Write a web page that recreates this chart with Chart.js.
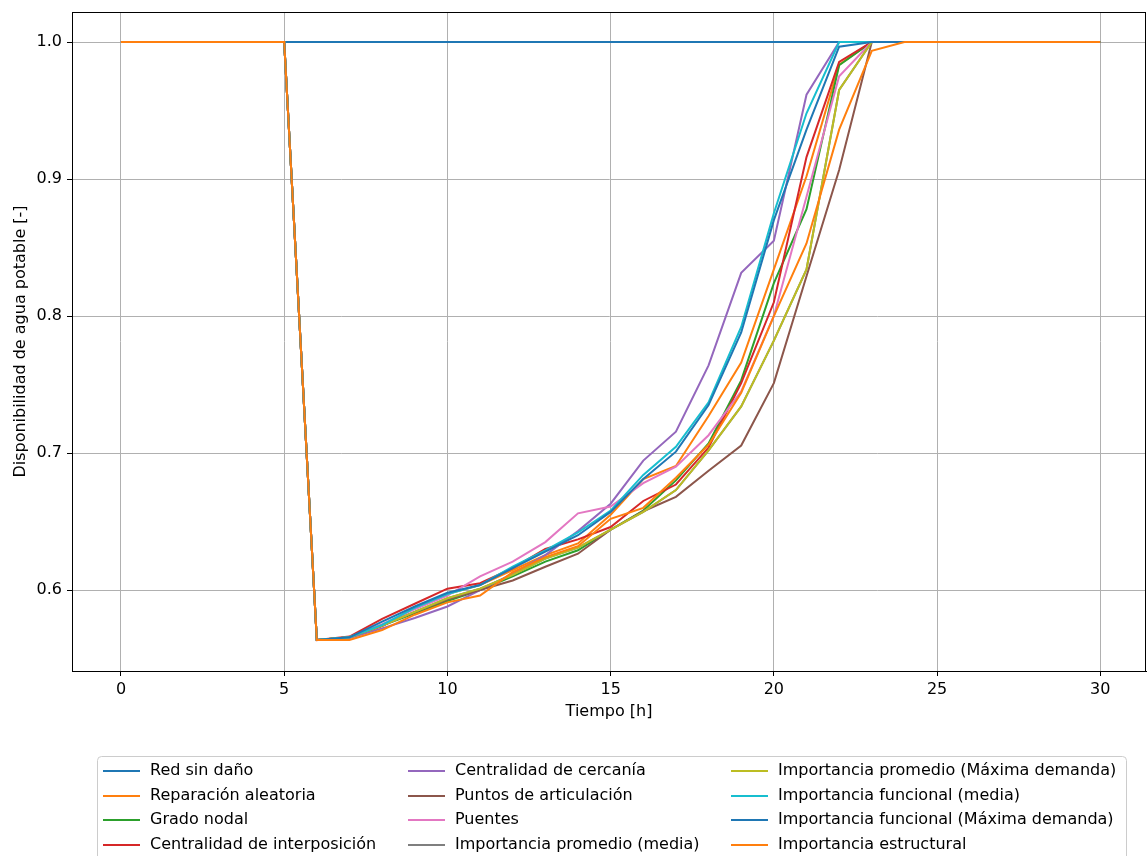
<!DOCTYPE html>
<html>
<head>
<meta charset="utf-8">
<script src="https://cdn.jsdelivr.net/npm/chart.js@4/dist/chart.umd.min.js"></script>
<style>
  body { margin: 0; background: #fff; }
  #wrap { width: 1147px; height: 856px; position: relative; }
</style>
</head>
<body>
<div id="wrap"><canvas id="chart" width="1147" height="856"></canvas></div>
<script>
// time axis (hours)
const hours = [0,1,2,3,4,5,6,7,8,9,10,11,12,13,14,15,16,17,18,19,20,21,22,23,24,25,26,27,28,29,30];
const xTicks = [0, 5, 10, 15, 20, 25, 30];
const yTicks = [0.6, 0.7, 0.8, 0.9, 1.0];

const labels = [
    "Red sin daño",
    "Reparación aleatoria",
    "Grado nodal",
    "Centralidad de interposición",
    "Centralidad de cercanía",
    "Puntos de articulación",
    "Puentes",
    "Importancia promedio (media)",
    "Importancia promedio (Máxima demanda)",
    "Importancia funcional (media)",
    "Importancia funcional (Máxima demanda)",
    "Importancia estructural"
];
const colors = ["#1f77b4","#ff7f0e","#2ca02c","#d62728","#9467bd","#8c564b","#e377c2","#7f7f7f","#bcbd22","#17becf","#1f77b4","#ff7f0e"];

const sinDano       = [1,1,1,1,1,1,1,1,1,1,1,1,1,1,1,1,1,1,1,1,1,1,1,1,1,1,1,1,1,1,1];
const aleatoria     = [1,1,1,1,1,1,0.5635,0.5650,0.5735,0.5870,0.5970,0.6036,0.6146,0.6255,0.6340,0.6550,0.6810,0.6905,0.7270,0.7660,0.8340,0.9020,0.9835,1,1,1,1,1,1,1,1];
const gradoNodal    = [1,1,1,1,1,1,0.5635,0.5655,0.5740,0.5830,0.5920,0.6000,0.6100,0.6207,0.6290,0.6440,0.6580,0.6800,0.7070,0.7530,0.8240,0.8780,0.9830,1,1,1,1,1,1,1,1];
const interposicion = [1,1,1,1,1,1,0.5635,0.5660,0.5790,0.5900,0.6010,0.6050,0.6160,0.6300,0.6370,0.6460,0.6650,0.6770,0.7040,0.7510,0.8100,0.9160,0.9855,1,1,1,1,1,1,1,1];
const cercania      = [1,1,1,1,1,1,0.5635,0.5650,0.5720,0.5796,0.5880,0.6000,0.6120,0.6255,0.6430,0.6630,0.6945,0.7156,0.7640,0.8315,0.8550,0.9615,1,1,1,1,1,1,1,1,1];
const articulacion  = [1,1,1,1,1,1,0.5635,0.5655,0.5740,0.5840,0.5930,0.6000,0.6070,0.6170,0.6265,0.6440,0.6575,0.6680,0.6870,0.7055,0.7510,0.8290,0.9066,1,1,1,1,1,1,1,1];
const puentes       = [1,1,1,1,1,1,0.5635,0.5655,0.5750,0.5860,0.5960,0.6100,0.6207,0.6350,0.6560,0.6610,0.6780,0.6900,0.7130,0.7450,0.8000,0.8870,0.9750,1,1,1,1,1,1,1,1];
const promMedia     = [1,1,1,1,1,1,0.5635,0.5655,0.5740,0.5840,0.5940,0.6010,0.6110,0.6230,0.6310,0.6440,0.6570,0.6730,0.7020,0.7340,0.7820,0.8340,0.9650,1,1,1,1,1,1,1,1];
const promMaxima    = [1,1,1,1,1,1,0.5635,0.5655,0.5740,0.5840,0.5940,0.6010,0.6110,0.6230,0.6310,0.6440,0.6570,0.6730,0.7020,0.7340,0.7820,0.8340,0.9650,1,1,1,1,1,1,1,1];
const funcMedia     = [1,1,1,1,1,1,0.5635,0.5655,0.5745,0.5870,0.5970,0.6036,0.6170,0.6290,0.6420,0.6580,0.6840,0.7046,0.7370,0.7920,0.8750,0.9480,1,1,1,1,1,1,1,1,1];
const funcMaxima    = [1,1,1,1,1,1,0.5635,0.5655,0.5770,0.5880,0.5980,0.6036,0.6160,0.6280,0.6400,0.6570,0.6810,0.7010,0.7350,0.7880,0.8700,0.9360,0.9966,1,1,1,1,1,1,1,1];
const estructural   = [1,1,1,1,1,1,0.5635,0.5635,0.5708,0.5820,0.5910,0.5960,0.6130,0.6240,0.6320,0.6520,0.6600,0.6820,0.7060,0.7440,0.8000,0.8530,0.9360,0.9935,1,1,1,1,1,1,1];

const series = [sinDano, aleatoria, gradoNodal, interposicion, cercania, articulacion,
                puentes, promMedia, promMaxima, funcMedia, funcMaxima, estructural];

const FONT = "'DejaVu Sans', sans-serif";

// matplotlib draws the last series on top, so reverse chart.js order
const datasets = series.map((vals, i) => ({
    label: labels[i],
    data: vals.map((v, k) => ({ x: hours[k], y: v })),
    borderColor: colors[i],
    backgroundColor: colors[i],
    borderWidth: 2,
    pointRadius: 0,
    tension: 0,
    fill: false,
    order: series.length - 1 - i
}));

// top + right spines
const framePlugin = {
    id: "frame",
    afterDatasetsDraw(chart) {
        const { ctx, chartArea: a } = chart;
        ctx.save();
        ctx.strokeStyle = "#000";
        ctx.lineWidth = 1;
        ctx.strokeRect(Math.round(a.left) + 0.5, Math.round(a.top) + 0.5,
                       Math.round(a.right - a.left) - 1, Math.round(a.bottom - a.top));
        ctx.restore();
    }
};

// matplotlib-style legend below the axes: 3 columns, 4 rows
const legendPlugin = {
    id: "mplLegend",
    afterDraw(chart) {
        const ctx = chart.ctx;
        const boxX = 97, boxY = 756, boxW = 1029, boxH = 130;
        const colX = [103, 408, 731];
        const rowY = [771, 796, 820, 845];
        ctx.save();
        ctx.fillStyle = "rgba(255,255,255,0.8)";
        ctx.strokeStyle = "#cccccc";
        ctx.lineWidth = 1;
        ctx.beginPath();
        ctx.roundRect(boxX + 0.5, boxY + 0.5, boxW, boxH, 4);
        ctx.fill();
        ctx.stroke();
        ctx.font = "16px " + FONT;
        ctx.textBaseline = "middle";
        chart.data.datasets.forEach((ds, i) => {
            const c = Math.floor(i / 4), r = i % 4;
            const x = colX[c], y = rowY[r];
            ctx.strokeStyle = ds.borderColor;
            ctx.lineWidth = 2;
            ctx.beginPath();
            ctx.moveTo(x, y);
            ctx.lineTo(x + 37, y);
            ctx.stroke();
            ctx.fillStyle = "#000";
            ctx.fillText(ds.label, x + 47, y);
        });
        ctx.restore();
    }
};

new Chart(document.getElementById("chart"), {
    type: "line",
    data: { datasets },
    options: {
        responsive: false,
        animation: false,
        layout: { padding: { top: 12, right: 1, left: 0, bottom: 0 } },
        plugins: { legend: { display: false }, tooltip: { enabled: false } },
        scales: {
            x: {
                type: "linear",
                min: -1.5,
                max: 31.4,
                afterBuildTicks: s => { s.ticks = xTicks.map(v => ({ value: v })); },
                afterFit: s => { s.height = 185; s.paddingLeft = 0; s.paddingRight = 0; },
                grid: { color: "#b0b0b0", lineWidth: 1, tickLength: 5, tickColor: "#000" },
                border: { display: true, color: "#000", width: 1 },
                ticks: { color: "#000", padding: 4, maxRotation: 0, font: { family: FONT, size: 16 },
                         callback: v => String(v) },
                title: { display: true, text: "Tiempo [h]", color: "#000",
                         font: { family: FONT, size: 16 }, padding: { top: 0, bottom: 135 } }
            },
            y: {
                min: 0.5409,
                max: 1.0219,
                afterBuildTicks: s => { s.ticks = yTicks.map(v => ({ value: v })); },
                afterFit: s => { s.width = 72; s.paddingTop = 0; s.paddingBottom = 0; },
                grid: { color: "#b0b0b0", lineWidth: 1, tickLength: 5, tickColor: "#000" },
                border: { display: true, color: "#000", width: 1 },
                ticks: { color: "#000", padding: 5, font: { family: FONT, size: 16 },
                         callback: v => v.toFixed(1) },
                title: { display: true, text: "Disponibilidad de agua potable [-]", color: "#000",
                         font: { family: FONT, size: 16 }, padding: { top: 11, bottom: 0 } }
            }
        }
    },
    plugins: [framePlugin, legendPlugin]
});
</script>
</body>
</html>
